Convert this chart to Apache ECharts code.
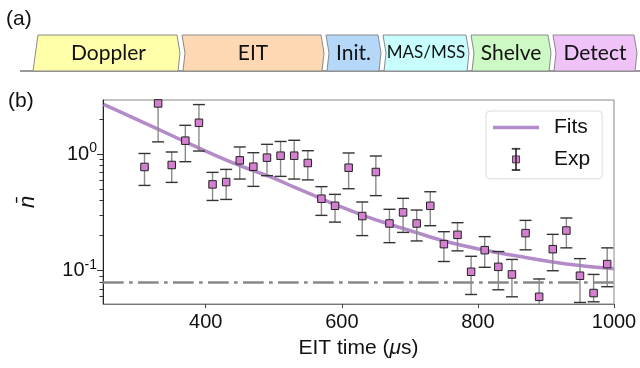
<!DOCTYPE html>
<html><head><meta charset="utf-8">
<script src="https://cdn.jsdelivr.net/npm/echarts@6/dist/echarts.min.js"></script>
<style>html,body{margin:0;padding:0;background:#fff}#c{width:640px;height:368px}</style>
</head><body><div id="c"></div>
<script>
// ---- data ----
const timeUs   = [310,330,350,370,390,410,430,450,470,490,510,530,550,570,590,610,630,650,670,690,710,730,750,770,790,810,830,850,870,890,910,930,950,970,990];
const nbar     = [0.774,2.71,0.805,1.30,1.85,0.549,0.575,0.882,0.778,0.93,0.967,0.967,0.837,0.414,0.36,0.763,0.294,0.701,0.254,0.316,0.254,0.36,0.169,0.203,0.098,0.150,0.108,0.093,0.21,0.0598,0.153,0.221,0.0906,0.0644,0.114];
const nbarLow  = [0.538,1.27,0.571,0.859,1.06,0.40,0.408,0.61,0.528,0.652,0.643,0.61,0.60,0.298,0.261,0.504,0.20,0.44,0.174,0.213,0.18,0.243,0.12,0.148,0.0626,0.107,0.0687,0.0598,0.151,0.035,0.10,0.157,0.0535,0.0542,0.073];
const nbarHigh = [1.01,3.6,1.04,1.76,2.65,0.696,0.738,1.148,1.026,1.21,1.28,1.31,1.067,0.525,0.451,1.02,0.388,0.961,0.336,0.417,0.331,0.475,0.216,0.258,0.133,0.196,0.146,0.125,0.27,0.085,0.205,0.283,0.127,0.093,0.157];
const fitTime  = [250,300,350,400,440,470,500,530,570,600,630,670,710,750,810,870,910,950,1000];
const fitNbar  = [2.66,1.96,1.44,1.06,0.84,0.72,0.62,0.52,0.414,0.35,0.30,0.25,0.212,0.18,0.15,0.13,0.119,0.111,0.104];
const floorLevel = 0.082;
const xTicks = [400,600,800,1000];
const yTicks = [0.1,1];
const yMinorTicks = [0.06,0.07,0.08,0.09,0.2,0.3,0.4,0.5,0.6,0.7,0.8,0.9,2];
const stageLabels = ['Doppler','EIT','Init.','MAS/MSS','Shelve','Detect'];

// ---- layout / style ----
const STAGE_EDGES = [33,180,324,381,469,551,637];
const STAGE_COLORS = ['#ffffaa','#fdd8b3','#b6d8f8','#c8fefe','#cdf9c4','#efc3f8'];
const STAGE_FONTS = [21,21,21,17,21,21];
const T = 35, B = 71, M = 53;
const FF = 'Liberation Sans';

const graphics = [
  {type:'text', left:6, top:9, style:{text:'(a)', font:'21px Liberation Sans', fill:'#111'}},
  {type:'text', left:8, top:91, style:{text:'(b)', font:'21px Liberation Sans', fill:'#111'}},
  {type:'line', shape:{x1:20,y1:B,x2:640,y2:B}, style:{stroke:'#777', lineWidth:1.5}, z:0}
];
stageLabels.forEach((lab,i)=>{
  const x0 = STAGE_EDGES[i] + (i===0?0:2), x1 = STAGE_EDGES[i+1];
  let pts;
  if (i===0) pts = [[x0,B],[x0+5,T],[x1-3,T],[x1,M],[x1-2,B]];
  else pts = [[x0,T],[x0+3,M],[x0+1,B],[x1-2,B],[x1,M],[x1-3,T]];
  graphics.push({type:'polygon', shape:{points:pts}, style:{fill:STAGE_COLORS[i], stroke:'#8a8a8a', lineWidth:1}, z:1});
  graphics.push({type:'text', x:(x0+x1)/2+(i===0?2:0), y:M, z:2,
    style:{text:lab, font:STAGE_FONTS[i]+'px Lato', fill:'#111', textAlign:'center', textVerticalAlign:'middle'}});
});

const chart = echarts.init(document.getElementById('c'), null, {renderer:'canvas'});
const errRender = function(params, api){
  const x = api.value(0), lo = api.value(1), hi = api.value(2);
  const a = api.coord([x, lo]), b = api.coord([x, hi]);
  const cw = 6;
  return {type:'group', children:[
    {type:'line', shape:{x1:a[0],y1:a[1],x2:b[0],y2:b[1]}, style:{stroke:'#8a8a8a', lineWidth:1.4}},
    {type:'line', shape:{x1:a[0]-cw,y1:a[1],x2:a[0]+cw,y2:a[1]}, style:{stroke:'#333', lineWidth:1.4}},
    {type:'line', shape:{x1:b[0]-cw,y1:b[1],x2:b[0]+cw,y2:b[1]}, style:{stroke:'#333', lineWidth:1.4}}
  ]};
};
const supLabel = v => '{b|10}{s|' + Math.round(Math.log10(v)) + '}';

chart.setOption({
  animation:false,
  backgroundColor:'#fff',
  textStyle:{fontFamily:FF},
  graphic: graphics,
  grid:{left:103, right:26, top:100, bottom:64, show:true, borderColor:'#888', borderWidth:1},
  legend:{
    orient:'vertical', left:486, top:111,
    backgroundColor:'#fff', borderColor:'#ddd', borderWidth:1, borderRadius:4,
    padding:[6,12,8,7], itemGap:10, itemWidth:46, itemHeight:22,
    textStyle:{fontSize:21, color:'#111', fontFamily:FF, padding:[0,0,0,10]},
    data:[
      {name:'Fits', icon:'path://M0 0h46v3.5h-46z', itemStyle:{color:'#b48bc9', borderWidth:0}},
      {name:'Exp', icon:'path://M0 0h8v0.8h-8z M3.6 0h0.8v22h-0.8z M0 21.2h8v0.8h-8z M0.5 7.5h7v7h-7z', itemStyle:{borderWidth:0.8}}
    ]
  },
  xAxis:{
    type:'value', min:249, max:1000,
    name:'EIT time ({i|μ}s)', nameLocation:'middle', nameGap:34,
    nameTextStyle:{fontSize:21, color:'#111', fontFamily:FF, rich:{i:{fontSize:21, fontStyle:'italic', fontFamily:FF, color:'#111'}}},
    axisLine:{show:true, lineStyle:{color:'#777', width:1}},
    axisTick:{show:true, length:4, customValues:xTicks, lineStyle:{color:'#444'}},
    axisLabel:{customValues:xTicks, fontSize:20, color:'#111', margin:8, fontFamily:FF, formatter: v => String(v)},
    splitLine:{show:false}
  },
  yAxis:[{
    type:'log', logBase:10, min:0.0519, max:2.9,
    name:'n\u0304', nameLocation:'middle', nameGap:64, nameRotate:90,
    nameTextStyle:{fontSize:22, fontStyle:'italic', color:'#111', fontFamily:FF},
    axisLine:{show:true, lineStyle:{color:'#222', width:1}},
    axisTick:{show:true, length:6, customValues:yTicks, lineStyle:{color:'#333'}},
    axisLabel:{customValues:yTicks, margin:6, formatter:supLabel, fontFamily:FF,
      rich:{b:{fontSize:20, color:'#111', fontFamily:FF}, s:{fontSize:14, color:'#111', fontFamily:FF, padding:[0,0,12,0]}}},
    splitLine:{show:false}, minorTick:{show:false}
  },{
    type:'log', logBase:10, min:0.0519, max:2.9, position:'left',
    axisLine:{show:false},
    axisTick:{show:true, length:3.5, customValues:yMinorTicks, lineStyle:{color:'#333'}},
    axisLabel:{show:false}, splitLine:{show:false}
  }],
  series:[
    {type:'line', name:'floor', data:[], yAxisIndex:0, silent:true,
      markLine:{silent:true, symbol:['none','none'], label:{show:false},
        lineStyle:{color:'#888', width:2.7, type:[20.7,5.3,3.7,5.3]},
        data:[{yAxis:floorLevel}]}},
    {type:'line', name:'Fits', data:fitTime.map((t,i)=>[t,fitNbar[i]]), symbol:'none', showSymbol:false, smooth:0.3,
      lineStyle:{color:'#b48bc9', width:3.5}, itemStyle:{color:'#b48bc9'}, z:2},
    {type:'custom', name:'err', data:timeUs.map((t,i)=>[t,nbarLow[i],nbarHigh[i]]), renderItem:errRender,
      encode:{x:0, y:[1,2]}, clip:true, z:3, silent:true},
    {type:'scatter', name:'Exp', data:timeUs.map((t,i)=>[t,nbar[i]]), symbol:'rect', symbolSize:7.5,
      itemStyle:{color:'#d47fd0', borderColor:'#222', borderWidth:1, opacity:1}, z:4}
  ]
});
</script></body></html>
